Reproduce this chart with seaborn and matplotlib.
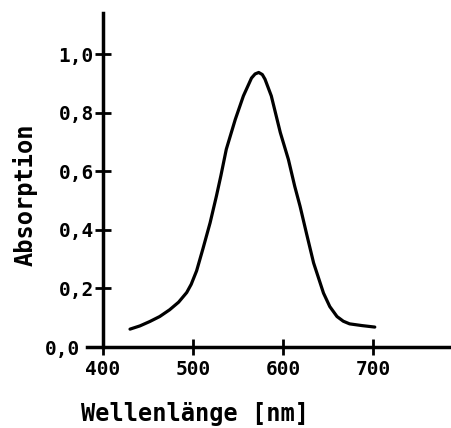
import matplotlib
matplotlib.use("Agg")
import matplotlib.pyplot as plt
import matplotlib.transforms as mtransforms
import seaborn as sns
import pandas as pd

wavelength = [430, 441, 452, 463, 474, 484, 493, 498, 504, 511, 519, 526, 531, 537, 547, 556, 565, 569, 573, 577, 580, 587, 597, 606, 613, 619, 626, 634, 645, 652, 660, 667, 674, 688, 702]
absorption = [0.061, 0.072, 0.087, 0.104, 0.127, 0.153, 0.186, 0.214, 0.260, 0.335, 0.424, 0.515, 0.585, 0.675, 0.777, 0.857, 0.918, 0.932, 0.937, 0.930, 0.914, 0.857, 0.732, 0.640, 0.549, 0.480, 0.389, 0.287, 0.184, 0.138, 0.104, 0.088, 0.079, 0.073, 0.068]
x_ticks = [400, 500, 600, 700]
y_ticks = [0.0, 0.2, 0.4, 0.6, 0.8, 1.0]
y_tick_labels = ["0,0", "0,2", "0,4", "0,6", "0,8", "1,0"]

sns.set_style("white")
plt.rcParams['font.family'] = ['DejaVu Sans Mono', 'DejaVu Sans']
plt.rcParams['font.weight'] = 'bold'
plt.rcParams['text.color'] = 'black'
plt.rcParams['axes.labelcolor'] = 'black'

df = pd.DataFrame({"Wellenlänge": wavelength, "Absorption": absorption})

fig = plt.figure(figsize=(4.52, 4.28), dpi=100)
ax = fig.add_axes([87/452, 81/428, (452-87)/452, (347-13)/428])
sns.lineplot(data=df, x="Wellenlänge", y="Absorption", ax=ax, color="black", linewidth=2.3)

ax.set_xlim(382.2, 787.8)
ax.set_ylim(0, 1.14)
ax.spines['left'].set_position(('data', 400))
ax.spines['right'].set_visible(False)
ax.spines['top'].set_visible(False)
for s in ('left', 'bottom'):
    ax.spines[s].set_linewidth(2.5)
    ax.spines[s].set_color('black')

ax.set_xticks(x_ticks)
ax.set_xticklabels([str(v) for v in x_ticks])
ax.set_yticks(y_ticks)
ax.set_yticklabels(y_tick_labels)
ax.tick_params(axis='both', bottom=True, left=True, direction='inout', length=11,
               width=2, colors='black', labelcolor='black', labelsize=14)
ax.tick_params(axis='y', pad=1)
ax.tick_params(axis='x', pad=4)

# shift the "0,0" label left of the extended x-axis line
lbl0 = ax.get_yticklabels()[0]
lbl0.set_transform(lbl0.get_transform() + mtransforms.ScaledTranslation(-10/72, 0, fig.dpi_scale_trans))

ax.set_xlabel("Wellenlänge [nm]", fontsize=17, fontweight='bold', color='black')
ax.set_ylabel("Absorption", fontsize=17, fontweight='bold', color='black')
ax.xaxis.set_label_coords((195-87)/(452-87), -(414-347)/334)
ax.yaxis.set_label_coords(-(87-25)/365, (347-195)/334)
ax.xaxis.label.set_va('center')
ax.yaxis.label.set_va('center')

fig.savefig("out.png", dpi=100, facecolor="white")
